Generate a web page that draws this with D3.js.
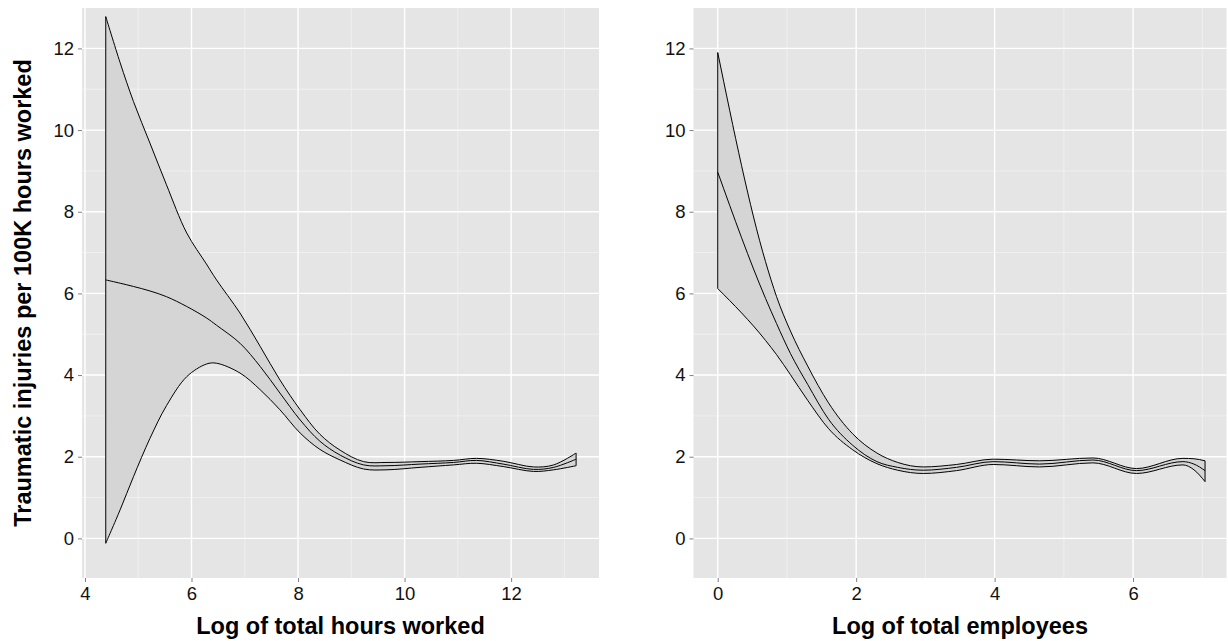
<!DOCTYPE html>
<html>
<head>
<meta charset="utf-8">
<script src="https://cdn.jsdelivr.net/npm/d3@7"></script>
<style>
  html, body { margin: 0; padding: 0; background: #ffffff; }
  svg { display: block; font-family: "Liberation Sans", Arial, sans-serif; }
</style>
</head>
<body>
<svg id="chart" width="1228" height="641"></svg>
<script>
// Smoothed injury rate vs. log hours worked: fit and confidence band
const hoursX     = [4.39, 4.66, 4.91, 5.22, 5.53, 5.91, 6.28, 6.47, 6.91, 7.29, 7.66, 8.04, 8.41, 8.79, 9.23, 9.67, 10.29, 10.92, 11.35, 11.85, 12.42, 12.80, 13.22];
const hoursUpper = [12.78, 11.65, 10.70, 9.68, 8.66, 7.48, 6.72, 6.33, 5.52, 4.70, 3.88, 3.15, 2.55, 2.16, 1.88, 1.86, 1.88, 1.91, 1.96, 1.89, 1.75, 1.80, 2.09];
const hoursFit   = [6.33, 6.25, 6.17, 6.06, 5.92, 5.68, 5.40, 5.22, 4.78, 4.21, 3.56, 2.90, 2.38, 2.04, 1.80, 1.78, 1.82, 1.86, 1.91, 1.82, 1.69, 1.74, 1.94];
const hoursLower = [-0.12, 0.70, 1.51, 2.45, 3.25, 3.96, 4.27, 4.29, 4.05, 3.64, 3.15, 2.58, 2.18, 1.92, 1.70, 1.68, 1.74, 1.80, 1.84, 1.76, 1.64, 1.68, 1.78];

// Smoothed injury rate vs. log employees: fit and confidence band
const employeesX     = [0, 0.69, 0.85, 1.05, 1.3, 1.6, 1.95, 2.3, 2.6, 2.97, 3.45, 3.98, 4.65, 5.42, 6.05, 6.72, 6.88, 7.04];
const employeesUpper = [11.90, 6.78, 5.92, 5.08, 4.22, 3.32, 2.56, 2.09, 1.86, 1.75, 1.81, 1.94, 1.90, 1.97, 1.71, 1.96, 1.95, 1.90];
const employeesFit   = [8.97, 5.88, 5.26, 4.53, 3.77, 2.92, 2.28, 1.88, 1.74, 1.67, 1.74, 1.88, 1.82, 1.92, 1.66, 1.88, 1.82, 1.66];
const employeesLower = [6.12, 4.85, 4.50, 4.01, 3.38, 2.69, 2.17, 1.83, 1.67, 1.59, 1.66, 1.81, 1.75, 1.85, 1.59, 1.80, 1.68, 1.39];

// Axis ticks and titles
const yTicks = [0, 2, 4, 6, 8, 10, 12];
const yMinor = [1, 3, 5, 7, 9, 11];
const hoursTicks = [4, 6, 8, 10, 12];
const hoursMinor = [5, 7, 9, 11, 13];
const employeesTicks = [0, 2, 4, 6];
const employeesMinor = [1, 3, 5, 7];
const yTitle = "Traumatic injuries per 100K hours worked";
const hoursTitle = "Log of total hours worked";
const employeesTitle = "Log of total employees";

const svg = d3.select("#chart");
const plotTop = 8, plotBottom = 578;
const y = d3.scaleLinear().domain([-0.97, 12.99]).range([plotBottom, plotTop]);

function panel(opts) {
  const x = d3.scaleLinear().domain(opts.domain).range([opts.left, opts.right]);
  const g = svg.append("g");

  g.append("rect")
    .attr("x", opts.left).attr("y", plotTop)
    .attr("width", opts.right - opts.left).attr("height", plotBottom - plotTop)
    .attr("fill", "#E5E5E5");

  // minor grid
  g.selectAll(".vminor").data(opts.minor.filter(v => x(v) <= opts.right)).join("line")
    .attr("x1", d => x(d)).attr("x2", d => x(d)).attr("y1", plotTop).attr("y2", plotBottom)
    .attr("stroke", "#F2F2F2").attr("stroke-width", 0.8);
  g.selectAll(".hminor").data(yMinor).join("line")
    .attr("x1", opts.left).attr("x2", opts.right).attr("y1", d => y(d)).attr("y2", d => y(d))
    .attr("stroke", "#F2F2F2").attr("stroke-width", 0.8);
  // major grid
  g.selectAll(".vmajor").data(opts.ticks).join("line")
    .attr("x1", d => x(d)).attr("x2", d => x(d)).attr("y1", plotTop).attr("y2", plotBottom)
    .attr("stroke", "#FFFFFF").attr("stroke-width", 1.4);
  g.selectAll(".hmajor").data(yTicks).join("line")
    .attr("x1", opts.left).attr("x2", opts.right).attr("y1", d => y(d)).attr("y2", d => y(d))
    .attr("stroke", "#FFFFFF").attr("stroke-width", 1.4);

  const rows = opts.xs.map((v, i) => ({ x: v, lo: opts.lower[i], fit: opts.fit[i], hi: opts.upper[i] }));
  const curve = opts.curve;

  // confidence band, outlined
  const upperPts = rows.map(d => [x(d.x), y(d.hi)]);
  const lowerPts = rows.slice().reverse().map(d => [x(d.x), y(d.lo)]);
  const hiPath = d3.line().curve(curve)(upperPts);
  const loPath = d3.line().curve(curve)(lowerPts);
  g.append("path")
    .attr("d", hiPath + "L" + loPath.slice(1) + "Z")
    .attr("fill", "#D5D5D5")
    .attr("stroke", "#000")
    .attr("stroke-width", 1)
    .attr("stroke-linejoin", "miter");

  // fitted line
  g.append("path")
    .attr("d", d3.line().curve(curve).x(d => x(d.x)).y(d => y(d.fit))(rows))
    .attr("fill", "none").attr("stroke", "#000").attr("stroke-width", 1);

  // axes
  const xAxis = d3.axisBottom(x).tickValues(opts.ticks).tickSize(4).tickPadding(5).tickFormat(d3.format("d"));
  const ax = g.append("g").attr("transform", `translate(0,${plotBottom})`).call(xAxis);
  ax.select(".domain").remove();
  ax.selectAll("line").attr("stroke", "#7F7F7F");
  ax.selectAll("text").attr("font-size", 18.5).attr("fill", "#111")
    .attr("font-family", "Liberation Sans, Arial, sans-serif");

  const yAxis = d3.axisLeft(y).tickValues(yTicks).tickSize(4).tickPadding(4).tickFormat(d3.format("d"));
  const ay = g.append("g").attr("transform", `translate(${opts.left},0)`).call(yAxis);
  ay.select(".domain").remove();
  ay.selectAll("line").attr("stroke", "#7F7F7F");
  ay.selectAll("text").attr("font-size", 18.5).attr("fill", "#111")
    .attr("font-family", "Liberation Sans, Arial, sans-serif");

  g.append("text")
    .attr("x", (opts.left + opts.right) / 2).attr("y", 634)
    .attr("text-anchor", "middle")
    .attr("font-size", 23.5).attr("font-weight", "bold").attr("fill", "#000")
    .text(opts.title);
}

panel({
  left: 82, right: 599, domain: [3.944, 13.65],
  ticks: hoursTicks, minor: hoursMinor,
  xs: hoursX, lower: hoursLower, fit: hoursFit, upper: hoursUpper,
  curve: d3.curveCatmullRom.alpha(0.5),
  title: hoursTitle
});

panel({
  left: 693.5, right: 1226.5, domain: [-0.35, 7.35],
  ticks: employeesTicks, minor: employeesMinor,
  xs: employeesX, lower: employeesLower, fit: employeesFit, upper: employeesUpper,
  curve: d3.curveMonotoneX,
  title: employeesTitle
});

svg.append("text")
  .attr("transform", `translate(31,${(plotTop + plotBottom) / 2}) rotate(-90)`)
  .attr("text-anchor", "middle")
  .attr("font-size", 23.5).attr("font-weight", "bold").attr("fill", "#000")
  .text(yTitle);
</script>
</body>
</html>
